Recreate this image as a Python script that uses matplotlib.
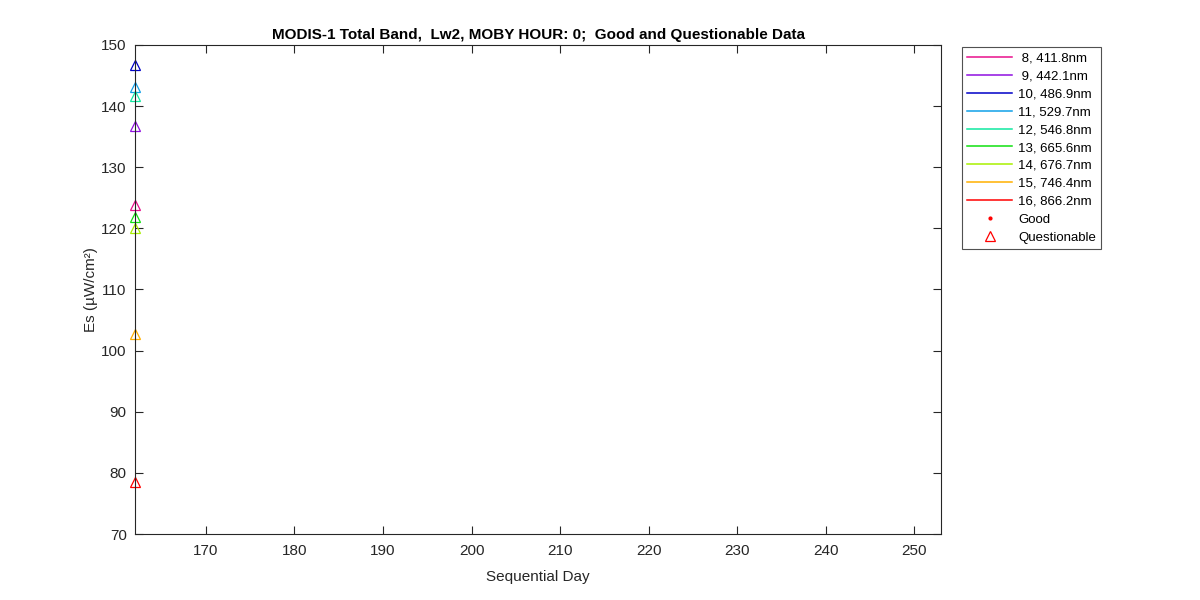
import matplotlib
matplotlib.use("Agg")
from matplotlib import pyplot as plt

plt.rcParams['font.family'] = ['Liberation Sans', 'DejaVu Sans']

# band labels and colours
bands = [' 8, 411.8nm', ' 9, 442.1nm', '10, 486.9nm', '11, 529.7nm', '12, 546.8nm',
         '13, 665.6nm', '14, 676.7nm', '15, 746.4nm', '16, 866.2nm']
band_colors = ['#e8108c', '#9010e0', '#0000c8', '#10a0e8', '#10e8a0',
               '#10e010', '#a8f000', '#ffb000', '#ff0000']

# one questionable point per band, day 162
days = [162]
es_questionable = [123.9, 136.8, 146.75, 143.2, 141.6, 121.9, 120.1, 102.7, 78.5]

ink = '#262626'

fig = plt.figure(figsize=(12, 6), dpi=100)
ax = fig.add_axes([135 / 1200, 66 / 600, 806 / 1200, 489 / 600])

handles = []
for lbl, col, v in zip(bands, band_colors, es_questionable):
    h, = ax.plot(days, [v], '-', color=col, lw=1.1, label=lbl)
    handles.append(h)
    ax.plot(days, [v], '^', mfc='none', mec=col, ms=7, mew=0.9, clip_on=False)

good, = ax.plot([], [], '.', color='#ff0000', ms=4, label='Good')
quest, = ax.plot([], [], '^', mfc='none', mec='#ff0000', ms=7, mew=0.9, label='Questionable')
handles += [good, quest]

ax.set_xlim(162, 253)
ax.set_ylim(70, 150)
ax.set_xticks(range(170, 251, 10))
ax.set_yticks(range(70, 151, 10))

ax.tick_params(direction='in', top=True, right=True, length=6, width=0.8,
               colors=ink, labelsize=11, labelcolor=ink)
ax.tick_params(axis='x', pad=7.5)
ax.tick_params(axis='y', pad=6)
for s in ax.spines.values():
    s.set_color(ink)
    s.set_linewidth(0.8)

ax.set_xlabel('Sequential Day', fontsize=11, color=ink, labelpad=8)
ax.set_ylabel('Es (µW/cm²)', fontsize=11, color=ink, labelpad=2)
ax.set_title('MODIS-1 Total Band,  Lw2, MOBY HOUR: 0;  Good and Questionable Data',
             fontsize=11, fontweight='bold', color='black', pad=4)

leg = fig.legend(handles=handles, loc='upper left', bbox_to_anchor=(962 / 1200, 1 - 47 / 600),
                 fontsize=9.5, frameon=True, fancybox=False, edgecolor=ink,
                 handlelength=3.4, labelspacing=0.43, borderpad=0.4, handletextpad=0.45,
                 borderaxespad=0)
leg.get_frame().set_linewidth(0.8)

fig.savefig('out.png', dpi=100)
